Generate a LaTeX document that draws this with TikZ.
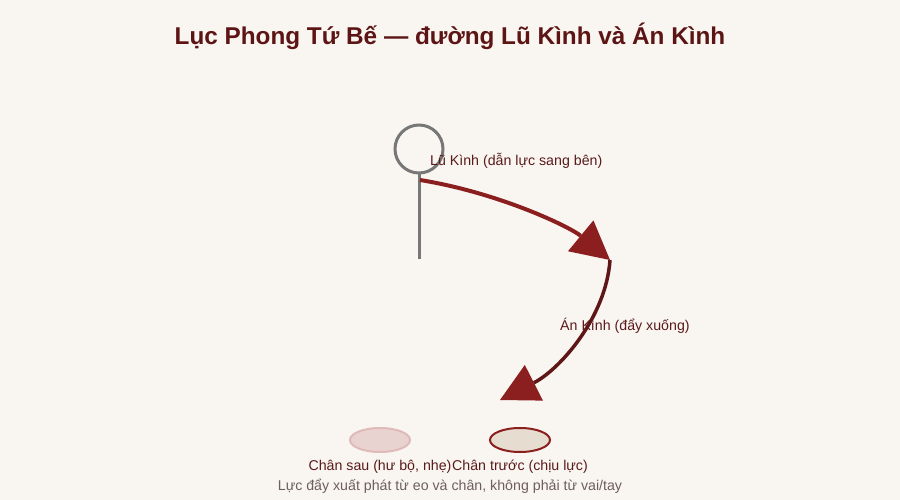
\documentclass[tikz,border=0pt]{standalone}
\usepackage{fontspec}
\setmainfont{Liberation Sans}
\usetikzlibrary{arrows.meta,shapes.geometric}
\definecolor{bgc}{HTML}{F9F6F2}
\definecolor{titlec}{HTML}{5C1414}
\definecolor{arrA}{HTML}{8B1E1E}
\definecolor{arrB}{HTML}{5E1616}
\definecolor{txtc}{HTML}{5A1A1A}
\definecolor{capc}{HTML}{6E5E5E}
\definecolor{figc}{HTML}{777777}
\definecolor{backfill}{HTML}{E9D3D1}
\definecolor{backdraw}{HTML}{DFBAB8}
\definecolor{frontfill}{HTML}{E6DCD0}
\tikzset{
  lbl/.style={text=txtc, font=\fontsize{14.2}{16}\selectfont, inner sep=0pt},
  bigtip/.style={arrows={-{Triangle[length=38pt,width=40pt,line width=0pt,color=arrA,fill=arrA]}}},
  foot/.style={draw, line width=2pt},
}
\begin{document}
\begin{tikzpicture}[x=1pt,y=-1pt]
\fill[bgc] (0,0) rectangle (900,500);
\useasboundingbox (0,0) rectangle (900,500);
\node[text=titlec, font=\fontsize{24.3}{28}\selectfont\bfseries, anchor=base, inner sep=0pt] (title) at (450,45) {Lục Phong Tứ Bế — đường Lũ Kình và Án Kình};
% figure
\node[circle, draw=figc, line width=3pt, minimum size=48pt, inner sep=0pt] (head) at (419,149) {};
\coordinate (hip) at (419,259);
\draw[figc, line width=3pt] (head.south) -- (hip);
% arrow points
\coordinate (p0) at (420,180);
\coordinate (p1) at (610,260);
\coordinate (p2) at (500,400);
\draw[arrA, line width=4pt, bigtip] (p0) .. controls (500,193) and (570,227) .. (p1);
\draw[arrB, line width=3.5pt, bigtip] (p1) .. controls (606,318) and (559,370) .. (p2);
\node[lbl, anchor=base west] (lu) at (430,165) {Lũ Kình (dẫn lực sang bên)};
\node[lbl, anchor=base west] (an) at (560,330) {Án Kình (đẩy xuống)};
% feet
\node[ellipse, foot, draw=backdraw, fill=backfill, minimum width=60pt, minimum height=24pt, inner sep=0pt] (back) at (380,440) {};
\node[ellipse, foot, draw=arrA, fill=frontfill, minimum width=60pt, minimum height=24pt, inner sep=0pt] (front) at (520,440) {};
\node[lbl, anchor=base] (backl) at (380,470) {Chân sau (hư bộ, nhẹ)};
\node[lbl, anchor=base] (frontl) at (520,470) {Chân trước (chịu lực)};
\node[lbl, text=capc, anchor=base] (cap) at (450,490) {Lực đẩy xuất phát từ eo và chân, không phải từ vai/tay};
\end{tikzpicture}
\end{document}
